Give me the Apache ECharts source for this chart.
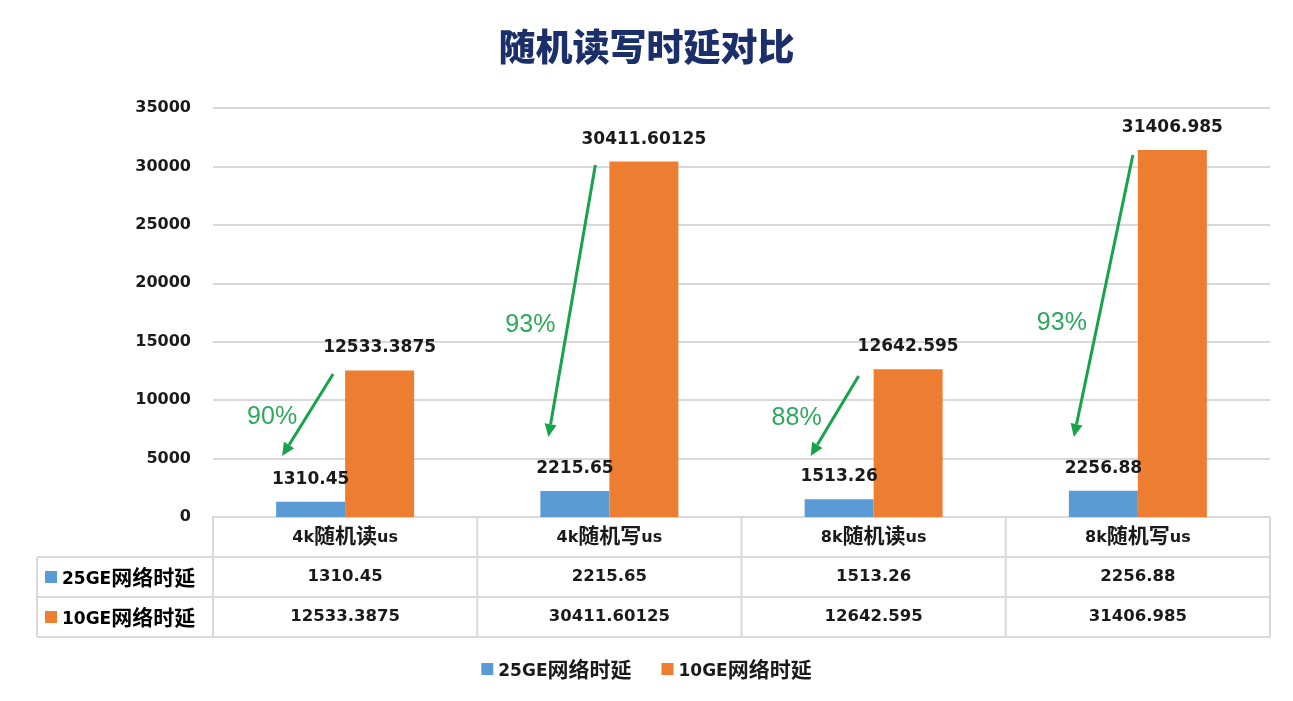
<!DOCTYPE html>
<html>
<head>
<meta charset="utf-8">
<script src="https://cdn.jsdelivr.net/npm/echarts@6/dist/echarts.min.js"></script>
<style>
html,body{margin:0;padding:0;background:#fff;}
#chart{width:1293px;height:701px;}
</style>
</head>
<body>
<div id="chart"></div>
<script>
const categories = ['4k随机读us', '4k随机写us', '8k随机读us', '8k随机写us'];
const seriesNames = ['25GE网络时延', '10GE网络时延'];
const values25GE = [1310.45, 2215.65, 1513.26, 2256.88];
const values10GE = [12533.3875, 30411.60125, 12642.595, 31406.985];
const reductionLabels = ['90%', '93%', '88%', '93%'];
const yMin = 0, yMax = 35000, yInterval = 5000;

const COLORS = ['#5B9BD5', '#ED7D31'];
const LATIN = '"DejaVu Sans", Verdana, sans-serif';
const CJK = '"Noto Sans CJK SC", "Microsoft YaHei", sans-serif';
const TXT = '#1a1a1a';
const GRID_COLOR = '#d9d9d9';
const GREEN = '#16A34A';

function richStyles(latinSize, cjkSize) {
  return {
    l: { fontFamily: LATIN, fontWeight: 'bold', fontSize: latinSize, color: TXT, verticalAlign: 'middle', padding: [5, 0, 0, 0] },
    c: { fontFamily: CJK, fontWeight: 'bold', fontSize: cjkSize, color: TXT, verticalAlign: 'middle' }
  };
}
function richText(str) {
  return String(str).replace(/([\u4e00-\u9fff]+)|([^\u4e00-\u9fff]+)/g,
    (m, c, l) => c ? '{c|' + c + '}' : '{l|' + l + '}');
}

const chart = echarts.init(document.getElementById('chart'));

const option = {
  backgroundColor: '#fff',
  animation: false,
  title: {
    text: '随机读写时延对比',
    left: 'center',
    top: 23,
    textStyle: { fontFamily: CJK, fontSize: 37, fontWeight: 900, color: '#1B2F6B' }
  },
  legend: {
    data: seriesNames,
    bottom: 16,
    left: 'center',
    icon: 'rect',
    itemWidth: 12,
    itemHeight: 12,
    itemGap: 30,
    formatter: name => richText(name),
    textStyle: { rich: richStyles(17, 21) }
  },
  grid: { left: 213, right: 23, top: 108, bottom: 184 },
  xAxis: {
    type: 'category',
    data: categories,
    axisTick: { show: false },
    axisLine: { show: true, lineStyle: { color: GRID_COLOR, width: 2 } },
    axisLabel: { margin: 8, formatter: v => richText(v), rich: richStyles(16, 21) }
  },
  yAxis: {
    type: 'value',
    min: yMin, max: yMax, interval: yInterval,
    axisLine: { show: false },
    axisTick: { show: false },
    splitLine: { lineStyle: { color: GRID_COLOR, width: 2 } },
    axisLabel: { margin: 22, formatter: v => String(v), fontFamily: LATIN, fontSize: 16, fontWeight: 'bold', color: TXT }
  },
  series: [
    {
      name: seriesNames[0], type: 'bar', data: values25GE, barWidth: 69, barGap: '0%',
      itemStyle: { color: COLORS[0] },
      label: { show: true, position: 'top', distance: 14, fontFamily: LATIN, fontSize: 17, fontWeight: 'bold', color: TXT }
    },
    {
      name: seriesNames[1], type: 'bar', data: values10GE, barWidth: 69, barGap: '0%',
      itemStyle: { color: COLORS[1] },
      label: { show: true, position: 'top', distance: 14, fontFamily: LATIN, fontSize: 17, fontWeight: 'bold', color: TXT }
    }
  ]
};
chart.setOption(option);

// ---- annotations + data table, positioned from the chart's own scales ----
const arrowGeom = [
  { s: [-12, -143], e: [-63, -61], t: [-73, -100] },
  { s: [-14, -352], e: [-61, -80], t: [-79, -192] },
  { s: [-15, -141], e: [-63, -61], t: [-77, -99] },
  { s: [-5, -362], e: [-64, -80], t: [-76, -194] }
];

const graphics = [];
const base = categories.map((c, i) => chart.convertToPixel({ xAxisIndex: 0, yAxisIndex: 0 }, [i, 0]));
const y0 = base[0][1];
const band = base[1][0] - base[0][0];
const leftX = base[0][0] - band / 2;
const rightX = base[base.length - 1][0] + band / 2;
const tableLeft = 37;
const rowH = 40;

function line(x1, y1, x2, y2, color, w) {
  graphics.push({ type: 'line', shape: { x1, y1, x2, y2 }, style: { stroke: color, lineWidth: w }, silent: true, z: 10 });
}
for (let r = 1; r <= 3; r++) line(tableLeft, y0 + r * rowH, rightX, y0 + r * rowH, GRID_COLOR, 2);
line(tableLeft, y0 + rowH, tableLeft, y0 + 3 * rowH, GRID_COLOR, 2);
for (let i = 0; i <= categories.length; i++) {
  const x = leftX + i * band;
  line(x, y0, x, y0 + 3 * rowH, GRID_COLOR, 2);
}
const rows = [values25GE, values10GE];
rows.forEach((vals, r) => {
  const cy = y0 + rowH * (r + 1) + rowH / 2;
  graphics.push({ type: 'rect', shape: { x: 45, y: cy - 6, width: 12, height: 12 }, style: { fill: COLORS[r] }, silent: true, z: 11 });
  graphics.push({ type: 'text', x: 62, y: cy, style: { text: richText(seriesNames[r]), rich: richStyles(17, 21), verticalAlign: 'middle', textVerticalAlign: 'middle' }, silent: true, z: 11 });
  vals.forEach((v, i) => {
    graphics.push({ type: 'text', x: base[i][0], y: cy, style: { text: String(v), fontFamily: LATIN, fontSize: 16.5, fontWeight: 'bold', fill: TXT, align: 'center', textAlign: 'center', verticalAlign: 'middle', textVerticalAlign: 'middle' }, silent: true, z: 11 });
  });
});
arrowGeom.forEach((g, i) => {
  const cx = base[i][0];
  const x1 = cx + g.s[0], y1 = y0 + g.s[1];
  const x2 = cx + g.e[0], y2 = y0 + g.e[1];
  const ang = Math.atan2(y2 - y1, x2 - x1);
  const headLen = 13, headW = 6;
  const bx = x2 - headLen * Math.cos(ang), by = y2 - headLen * Math.sin(ang);
  line(x1, y1, bx, by, GREEN, 3);
  const px = -Math.sin(ang), py = Math.cos(ang);
  graphics.push({ type: 'polygon', shape: { points: [[x2, y2], [bx + headW * px, by + headW * py], [bx - headW * px, by - headW * py]] }, style: { fill: GREEN }, silent: true, z: 12 });
  graphics.push({ type: 'text', x: cx + g.t[0], y: y0 + g.t[1], style: { text: reductionLabels[i], fontFamily: '"Liberation Sans", Arial, sans-serif', fontSize: 25, fill: '#2EA85C', align: 'center', textAlign: 'center', verticalAlign: 'middle', textVerticalAlign: 'middle' }, silent: true, z: 12 });
});

chart.setOption({ graphic: graphics });
</script>
</body>
</html>
